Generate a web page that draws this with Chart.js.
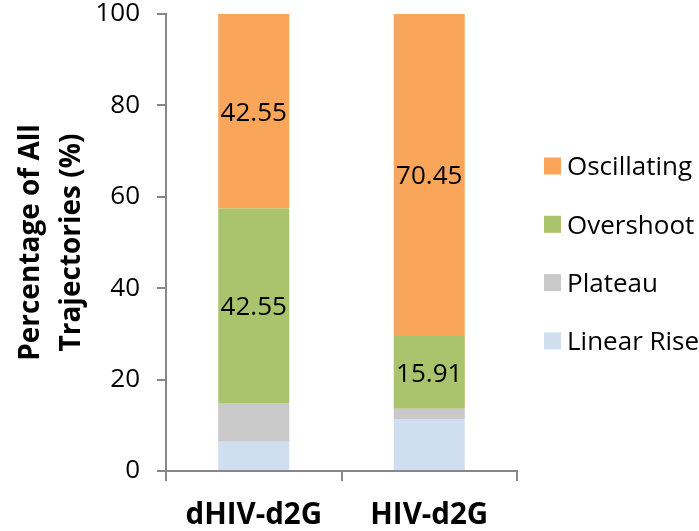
<!DOCTYPE html>
<html>
<head>
<meta charset="utf-8">
<script src="https://cdn.jsdelivr.net/npm/chart.js@4/dist/chart.umd.min.js"></script>
<style>
  html, body { margin: 0; padding: 0; background: #ffffff; }
  #wrap { width: 699px; height: 531px; }
</style>
</head>
<body>
<div id="wrap"><canvas id="chart" width="699" height="531"></canvas></div>
<script>
// Trajectory classes per construct, as percentage of all trajectories
const categories = ['dHIV-d2G', 'HIV-d2G'];
const linearRise  = [6.38, 11.36];
const plateau     = [8.51, 2.27];
const overshoot   = [42.55, 15.91];
const oscillating = [42.55, 70.45];
const yTicks = [0, 20, 40, 60, 80, 100];
const labelledSeries = ['Overshoot', 'Oscillating'];

const FONT = "'Open Sans', 'DejaVu Sans', sans-serif";
const AXIS_GREY = '#878787';

// Value text in the middle of the labelled segments
const segmentValues = {
  id: 'segmentValues',
  afterDatasetsDraw(chart) {
    const ctx = chart.ctx;
    ctx.save();
    ctx.font = '26px ' + FONT;
    ctx.fillStyle = '#000000';
    ctx.textAlign = 'center';
    ctx.textBaseline = 'middle';
    chart.data.datasets.forEach((ds, i) => {
      if (!labelledSeries.includes(ds.label)) return;
      const meta = chart.getDatasetMeta(i);
      meta.data.forEach((bar, j) => {
        const p = bar.getCenterPoint();
        ctx.fillText(ds.data[j].toFixed(2), p.x, p.y + 2);
      });
    });
    ctx.restore();
  }
};

// Square-swatch legend on the right, top series first
const sideLegend = {
  id: 'sideLegend',
  afterDraw(chart) {
    const ctx = chart.ctx;
    const items = chart.data.datasets.slice().reverse();
    const boxX = 544, box = 17, firstY = 166, step = 58.3;
    ctx.save();
    ctx.font = '26px ' + FONT;
    ctx.textAlign = 'left';
    ctx.textBaseline = 'middle';
    items.forEach((ds, k) => {
      const cy = firstY + k * step;
      ctx.fillStyle = ds.backgroundColor;
      ctx.fillRect(boxX, cy - box / 2, box, box);
      ctx.fillStyle = '#000000';
      ctx.fillText(ds.label, boxX + box + 6, cy + 2);
    });
    ctx.restore();
  }
};

new Chart(document.getElementById('chart'), {
  type: 'bar',
  data: {
    labels: categories,
    datasets: [
      { label: 'Linear Rise', data: linearRise,  backgroundColor: '#CFDFF0' },
      { label: 'Plateau',     data: plateau,     backgroundColor: '#C9C9C9' },
      { label: 'Overshoot',   data: overshoot,   backgroundColor: '#A9C46C' },
      { label: 'Oscillating', data: oscillating, backgroundColor: '#F9A65A' }
    ]
  },
  options: {
    responsive: false,
    animation: false,
    devicePixelRatio: 1,
    categoryPercentage: 1,
    barPercentage: 0.405,
    layout: { padding: { left: 11, right: 182, top: 14, bottom: 0 } },
    plugins: {
      legend: { display: false },
      tooltip: { enabled: false }
    },
    scales: {
      x: {
        stacked: true,
        afterFit(scale) {
          scale.height = 60;
          scale.paddingLeft = 0;
          scale.paddingRight = 0;
        },
        grid: {
          display: true, drawOnChartArea: false, drawTicks: true,
          tickLength: 10, color: AXIS_GREY, lineWidth: 2
        },
        border: { display: true, color: AXIS_GREY, width: 2 },
        ticks: {
          color: '#000000', padding: 17,
          font: { family: FONT, size: 29.5, weight: 'bold', lineHeight: 1.2 }
        }
      },
      y: {
        stacked: true,
        min: 0, max: 100,
        afterBuildTicks(scale) { scale.ticks = yTicks.map(v => ({ value: v })); },
        afterFit(scale) {
          scale.width = 155;
          scale.paddingTop = 0;
          scale.paddingBottom = 0;
        },
        grid: {
          display: true, drawOnChartArea: false, drawTicks: true,
          tickLength: 9, color: AXIS_GREY, lineWidth: 2
        },
        border: { display: true, color: AXIS_GREY, width: 2 },
        ticks: {
          color: '#000000', padding: 17,
          font: { family: FONT, size: 26, lineHeight: 1 }
        },
        title: {
          display: true,
          text: ['Percentage of All', 'Trajectories (%)'],
          color: '#000000',
          padding: { top: 0, bottom: 2 },
          font: { family: FONT, size: 28, weight: 'bold', lineHeight: 1.45 }
        }
      }
    }
  },
  plugins: [segmentValues, sideLegend]
});
</script>
</body>
</html>
